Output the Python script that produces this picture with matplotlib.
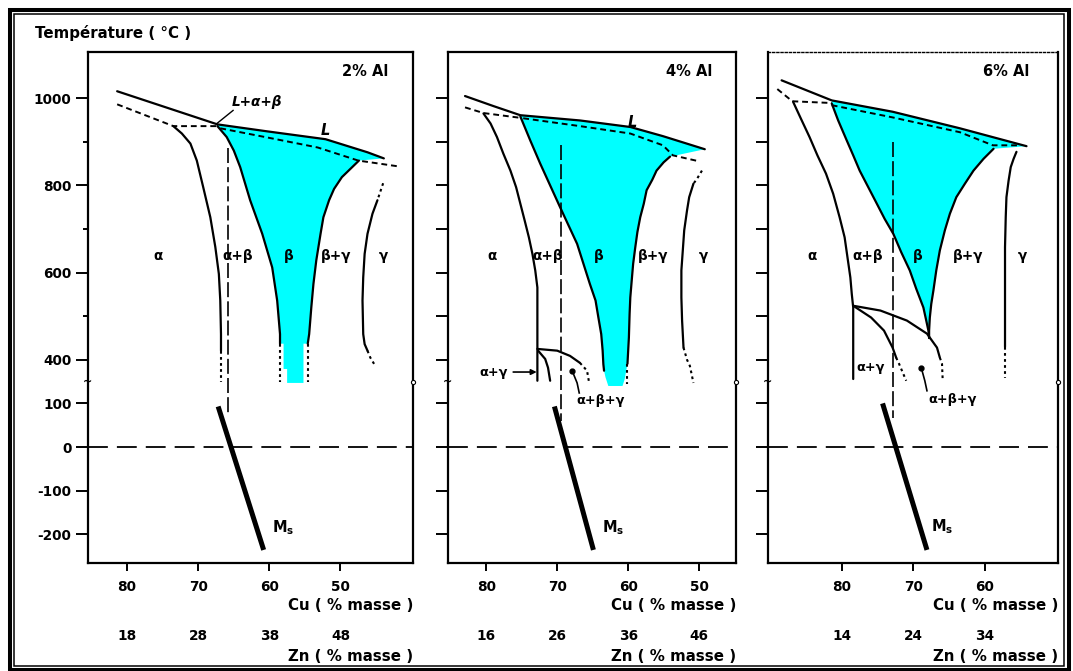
import numpy as np
import matplotlib
matplotlib.use("Agg")
import matplotlib.pyplot as plt
from matplotlib.patches import Rectangle
from matplotlib.transforms import blended_transform_factory

# Cu-Zn-Al vertical sections at constant Al; points are (Cu mass %, temperature °C)

# ---------- 2 % Al ----------
AL2_LIQUIDUS = [(81.4, 1016), (67.3, 940), (60.3, 924), (52.1, 906), (46.2, 876), (43.9, 862)]
AL2_SOLIDUS_A = [(81.4, 986), (73.5, 936), (67.3, 936)]
AL2_SOLIDUS_B = [(66.9, 931), (60.3, 910), (53.2, 887), (47.5, 857), (42.0, 844)]
AL2_ALPHA = [(73.5, 936), (72.3, 919), (71.1, 896), (70.2, 857), (69.3, 796), (68.3, 727),
             (67.6, 659), (67.1, 597), (66.9, 536), (66.8, 459), (66.8, 421)]
AL2_BETA_LEFT = [(67.3, 936), (66.0, 911), (65.0, 880), (64.1, 842), (62.7, 766),
                 (61.0, 689), (59.6, 612), (58.9, 536), (58.5, 459), (58.5, 437)]
AL2_BETA_RIGHT = [(47.4, 857), (48.6, 838), (49.8, 819), (50.9, 792), (51.6, 766),
                  (52.4, 727), (52.8, 689), (53.4, 628), (53.8, 574), (54.1, 520),
                  (54.4, 459), (54.6, 437)]
AL2_BETA_TAIL = [(55.2, 437), (55.2, 347), (57.5, 347), (57.5, 379), (58.0, 379), (58.0, 437)]
AL2_GAMMA = [(44.8, 766), (45.5, 735), (46.2, 689), (46.6, 643), (46.8, 589), (46.9, 536),
             (46.8, 459), (46.6, 436), (46.2, 421)]
AL2_LOW = []
AL2_DOTTED = [[(66.8, 421), (66.8, 349)], [(58.5, 437), (58.5, 349)],
              [(54.6, 437), (54.6, 349)], [(44.0, 805), (44.8, 766)],
              [(46.2, 421), (45.8, 405), (45.1, 386)]]
AL2_ALLOY = [(65.8, 885), (65.8, 75)]
AL2_MS = [(67.2, 93), (60.8, -236)]

# ---------- 4 % Al ----------
AL4_LIQUIDUS = [(83.0, 1005), (79.0, 982), (75.2, 961), (66.8, 949), (59.7, 934),
                (55.1, 913), (49.2, 883)]
AL4_SOLIDUS_A = [(83.0, 979), (80.4, 966), (75.2, 955)]
AL4_SOLIDUS_B = [(74.8, 954), (66.8, 936), (59.7, 919), (55.1, 892), (53.7, 869), (50.2, 856)]
AL4_ALPHA = [(80.4, 965), (79.4, 942), (78.5, 911), (77.6, 873), (76.6, 834), (75.8, 796),
             (75.2, 758), (74.6, 720), (74.0, 681), (73.5, 643), (73.1, 605), (72.8, 566),
             (72.8, 528), (72.8, 352)]
AL4_BETA_LEFT = [(75.2, 958), (73.8, 903), (72.4, 850), (71.0, 800), (69.6, 750),
                 (68.4, 708), (67.2, 666), (66.3, 620), (65.4, 574), (64.6, 536),
                 (64.2, 497), (63.8, 459), (63.6, 421), (63.5, 390), (63.4, 375)]
AL4_BETA_RIGHT = [(54.1, 866), (55.0, 853), (56.0, 834), (56.6, 813), (57.4, 789),
                  (57.8, 758), (58.3, 727), (58.7, 693), (59.0, 658), (59.3, 620),
                  (59.5, 582), (59.7, 543), (59.8, 505), (59.9, 451), (60.1, 391)]
AL4_BETA_TAIL = [(60.5, 355), (60.8, 340), (62.8, 340), (63.2, 360)]
AL4_GAMMA = [(50.8, 804), (51.4, 773), (51.7, 743), (52.1, 697), (52.3, 651), (52.5, 605),
             (52.5, 543), (52.4, 490), (52.2, 428)]
AL4_LOW = [[(72.8, 425), (70.0, 421), (68.2, 409), (66.8, 393)],
           [(72.7, 421), (71.7, 402), (71.3, 382), (71.0, 352)]]
AL4_DOTTED = [[(60.1, 391), (60.1, 345)], [(49.6, 834), (50.3, 815), (50.8, 804)],
              [(52.2, 428), (51.7, 400), (51.3, 386), (50.8, 347)],
              [(66.8, 393), (65.8, 375), (65.5, 347)]]
AL4_ALLOY = [(69.4, 892), (69.4, 60)]
AL4_MS = [(70.4, 93), (64.9, -236)]

# ---------- 6 % Al ----------
AL6_LIQUIDUS = [(88.4, 1041), (81.4, 995), (72.9, 969), (63.5, 931), (54.2, 890)]
AL6_SOLIDUS_A = [(89.0, 1021), (86.9, 993), (81.4, 989)]
AL6_SOLIDUS_B = [(81.4, 984), (72.9, 956), (63.5, 922), (58.9, 892), (55.5, 892)]
AL6_ALPHA = [(86.8, 992), (85.7, 953), (84.5, 911), (83.4, 869), (82.2, 827), (81.2, 781),
             (80.3, 727), (79.6, 681), (79.2, 635), (78.8, 589), (78.6, 551), (78.4, 520),
             (78.4, 356)]
AL6_BETA_LEFT = [(81.4, 988), (80.5, 949), (79.3, 903), (78.4, 869), (77.5, 834),
                 (76.3, 796), (75.1, 758), (74.0, 723), (72.8, 689), (71.7, 647),
                 (70.5, 605), (69.6, 563), (68.6, 520), (68.2, 490), (67.9, 467), (67.8, 450)]
AL6_BETA_RIGHT = [(58.8, 884), (60.2, 861), (61.6, 834), (62.8, 804), (64.0, 773),
                  (64.9, 735), (65.6, 697), (66.3, 651), (66.8, 605), (67.2, 559),
                  (67.5, 528), (67.7, 497), (67.8, 467), (67.8, 450)]
AL6_BETA_TAIL = []
AL6_GAMMA = [(55.6, 877), (56.0, 861), (56.4, 842), (56.7, 811), (57.0, 773), (57.1, 727),
             (57.2, 658), (57.2, 430)]
AL6_LOW = [[(78.4, 524), (74.6, 513), (70.9, 490), (68.1, 460), (66.7, 428), (66.3, 405)],
           [(78.4, 524), (75.9, 497), (74.1, 467), (72.9, 428), (72.4, 405)]]
AL6_DOTTED = [[(57.2, 430), (57.2, 359)], [(66.3, 405), (66.0, 391), (65.9, 352)],
              [(72.4, 405), (72.0, 391), (71.0, 352)]]
AL6_ALLOY = [(72.9, 899), (72.9, 66)]
AL6_MS = [(74.3, 100), (68.1, -236)]

# axes, ticks and labels
Y_TICKS = [1000, 800, 600, 400, 100, 0, -100, -200]
Y_MINOR = [900, 700, 500]
AL2_CU_TICKS = [80, 70, 60, 50]
AL4_CU_TICKS = [80, 70, 60, 50]
AL6_CU_TICKS = [80, 70, 60]
AL2_ZN_LABELS = ["18", "28", "38", "48"]
AL4_ZN_LABELS = ["16", "26", "36", "46"]
AL6_ZN_LABELS = ["14", "24", "34"]
AL2_PHASES = [("α", 75.6), ("α+β", 64.5), ("β", 57.3), ("β+γ", 50.6), ("γ", 43.9)]
AL4_PHASES = [("α", 79.2), ("α+β", 71.3), ("β", 64.2), ("β+γ", 56.5), ("γ", 49.4)]
AL6_PHASES = [("α", 84.2), ("α+β", 76.4), ("β", 69.4), ("β+γ", 62.4), ("γ", 54.7)]

CYAN = "#00ffff"
PHASE_T = 639
BREAK_T = 350


def tp(t):
    # broken temperature axis: the 150..350 °C band is cut out
    t = np.asarray(t, dtype=float)
    return np.where(t >= 250, t, t + 200)


def trace(ax, pts, **kw):
    a = np.asarray(pts, dtype=float)
    ax.plot(a[:, 0], tp(a[:, 1]), **kw)


SOLID = dict(color="k", lw=1.6, solid_capstyle="round", solid_joinstyle="round", zorder=3)
DASHED = dict(color="k", lw=1.4, dashes=(3, 2), zorder=3)
DOTTED = dict(color="k", lw=1.5, dashes=(1.3, 1.6), zorder=3)
ALLOY_LINE = dict(color="k", lw=1.2, dashes=(9, 2.5), zorder=3)
ZERO_LINE = dict(color="k", lw=1.3, dashes=(11, 5), zorder=3)

plt.rcParams["font.family"] = "DejaVu Sans"
plt.rcParams["font.weight"] = "bold"
plt.rcParams["font.size"] = 9.5

fig = plt.figure(figsize=(10.73, 6.71), dpi=100)

panels = [
    dict(rect=[88, 52, 413, 563], xlim=(85.5, 39.8), al="2% Al", al_x=0.923,
         liq=AL2_LIQUIDUS, sol_a=AL2_SOLIDUS_A, sol_b=AL2_SOLIDUS_B, alpha=AL2_ALPHA,
         bl=AL2_BETA_LEFT, br=AL2_BETA_RIGHT, tail=AL2_BETA_TAIL, gamma=AL2_GAMMA,
         low=AL2_LOW, dotted=AL2_DOTTED, alloy=AL2_ALLOY, ms=AL2_MS,
         cu=AL2_CU_TICKS, zn=AL2_ZN_LABELS, phases=AL2_PHASES, ms_lbl=(58.0, -184)),
    dict(rect=[448, 52, 736, 563], xlim=(85.4, 44.8), al="4% Al", al_x=0.917,
         liq=AL4_LIQUIDUS, sol_a=AL4_SOLIDUS_A, sol_b=AL4_SOLIDUS_B, alpha=AL4_ALPHA,
         bl=AL4_BETA_LEFT, br=AL4_BETA_RIGHT, tail=AL4_BETA_TAIL, gamma=AL4_GAMMA,
         low=AL4_LOW, dotted=AL4_DOTTED, alloy=AL4_ALLOY, ms=AL4_MS,
         cu=AL4_CU_TICKS, zn=AL4_ZN_LABELS, phases=AL4_PHASES, ms_lbl=(62.1, -186)),
    dict(rect=[768, 52, 1058, 563], xlim=(90.3, 49.8), al="6% Al", al_x=0.903,
         liq=AL6_LIQUIDUS, sol_a=AL6_SOLIDUS_A, sol_b=AL6_SOLIDUS_B, alpha=AL6_ALPHA,
         bl=AL6_BETA_LEFT, br=AL6_BETA_RIGHT, tail=AL6_BETA_TAIL, gamma=AL6_GAMMA,
         low=AL6_LOW, dotted=AL6_DOTTED, alloy=AL6_ALLOY, ms=AL6_MS,
         cu=AL6_CU_TICKS, zn=AL6_ZN_LABELS, phases=AL6_PHASES, ms_lbl=(66.0, -182)),
]

W, H = 1073.0, 671.0
axes = []
for i, p in enumerate(panels):
    x0, y0, x1, y1 = p["rect"]
    ax = fig.add_axes([x0 / W, 1 - y1 / H, (x1 - x0) / W, (y1 - y0) / H])
    axes.append(ax)
    ax.set_xlim(*p["xlim"])
    ax.set_ylim(-66, 1106)
    for s in ax.spines.values():
        s.set_linewidth(1.6)
    if i == 2:
        ax.spines["top"].set_linestyle((0, (1.5, 1.5)))
        ax.spines["top"].set_linewidth(1.0)

    # beta field
    top = [q for q in p["liq"] if q[0] <= p["bl"][0][0]]
    poly = np.asarray(top + p["br"] + p["tail"] + p["bl"][::-1], dtype=float)
    ax.fill(poly[:, 0], tp(poly[:, 1]), color=CYAN, lw=0, zorder=1)

    trace(ax, p["liq"], **SOLID)
    trace(ax, p["sol_a"], **DASHED)
    trace(ax, p["sol_b"], **DASHED)
    trace(ax, p["alpha"], **SOLID)
    trace(ax, p["bl"], **SOLID)
    trace(ax, p["br"], **SOLID)
    trace(ax, p["gamma"], **SOLID)
    for seg in p["low"]:
        trace(ax, seg, **SOLID)
    for seg in p["dotted"]:
        trace(ax, seg, **DOTTED)
    trace(ax, p["alloy"], **ALLOY_LINE)
    trace(ax, p["ms"], color="k", lw=3.6, solid_capstyle="butt", zorder=4)
    ax.axhline(tp(0), **ZERO_LINE)

    # ticks
    ax.set_yticks(tp(Y_TICKS))
    ax.set_yticks(tp(Y_MINOR), minor=True)
    if i == 0:
        ax.set_yticklabels([str(v) for v in Y_TICKS])
        ax.tick_params(axis="y", which="minor", direction="out", length=3.5, width=1.4)
    else:
        ax.set_yticklabels([])
        ax.tick_params(axis="y", which="minor", direction="out", length=9, width=1.4)
    ax.tick_params(axis="y", which="major", direction="out", length=9, width=1.4, pad=3,
                   labelsize=9.8)
    ax.set_xticks(p["cu"])
    ax.set_xticklabels([str(v) for v in p["cu"]])
    ax.tick_params(axis="x", direction="out", length=6, width=1.4, pad=6, labelsize=9.8)

    bt = blended_transform_factory(ax.transData, ax.transAxes)
    for cu, zn in zip(p["cu"], p["zn"]):
        ax.text(cu, -0.143, zn, transform=bt, ha="center", va="center", fontsize=9.8)
    ax.text(1.0, -0.084, "Cu ( % masse )", transform=ax.transAxes, ha="right",
            va="center", fontsize=10.8)
    ax.text(1.0, -0.182, "Zn ( % masse )", transform=ax.transAxes, ha="right",
            va="center", fontsize=10.8)

    # axis break marks
    by = blended_transform_factory(ax.transAxes, ax.transData)
    ax.text(0.0, tp(BREAK_T), "~", transform=by, ha="center", va="center",
            fontsize=8, clip_on=False)
    ax.plot([1.0], [tp(BREAK_T)], transform=by, marker="o", ms=3, mfc="white",
            mec="k", mew=0.8, clip_on=False, zorder=5)

    for name, cu in p["phases"]:
        ax.text(cu, tp(PHASE_T), name, ha="center", va="center", fontsize=9.8)
    ax.text(p["al_x"], 0.961, p["al"], transform=ax.transAxes, ha="right",
            va="center", fontsize=10.5)
    ax.text(p["ms_lbl"][0], tp(p["ms_lbl"][1]), r"$\mathbf{M_s}$", ha="center",
            va="center", fontsize=10.5)

# liquid labels and leader lines
a1, a2, a3 = axes
a1.text(52.1, 926, "L", style="italic", ha="center", va="center", fontsize=10.5)
a1.text(61.7, 991, "L+α+β", style="italic", ha="center", va="center", fontsize=9.8)
a1.plot([65.1, 67.3], [972, 943], color="k", lw=1.0, zorder=3)
a2.text(59.4, 945, "L", style="italic", ha="center", va="center", fontsize=10.5)

a2.annotate("α+γ", xy=(72.9, tp(372)), xytext=(79.0, tp(372)), ha="center",
            va="center", fontsize=9.3,
            arrowprops=dict(arrowstyle="-|>", color="k", lw=1.2, mutation_scale=8,
                            shrinkA=2, shrinkB=0))
trace(a2, [(67.9, 375), (67.2, 347), (66.9, 124)], color="k", lw=1.2, zorder=3)
a2.plot([67.9], [tp(375)], marker="o", ms=3.5, color="k")
a2.text(63.9, tp(106), "α+β+γ", ha="center", va="center", fontsize=9.3)

a3.text(78.0, tp(382), "α+γ", ha="left", va="center", fontsize=9.3)
trace(a3, [(68.9, 382), (68.4, 352), (68.1, 129)], color="k", lw=1.2, zorder=3)
a3.plot([68.9], [tp(382)], marker="o", ms=3.5, color="k")
a3.text(64.5, tp(110), "α+β+γ", ha="center", va="center", fontsize=9.3)

fig.text(35 / W, 1 - 33 / H, "Température ( °C )", ha="left", va="center", fontsize=10.8)

# double frame around the figure
fig.add_artist(Rectangle((9.8 / W, 1 - 669.5 / H), (1068.5 - 9.8) / W, (669.5 - 9.8) / H,
                         transform=fig.transFigure, fill=False, lw=2.9, ec="k"))
fig.add_artist(Rectangle((14.3 / W, 1 - 665.5 / H), (1064 - 14.3) / W, (665.5 - 14.3) / H,
                         transform=fig.transFigure, fill=False, lw=1.1, ec="k"))

fig.savefig("out.png", dpi=100)
